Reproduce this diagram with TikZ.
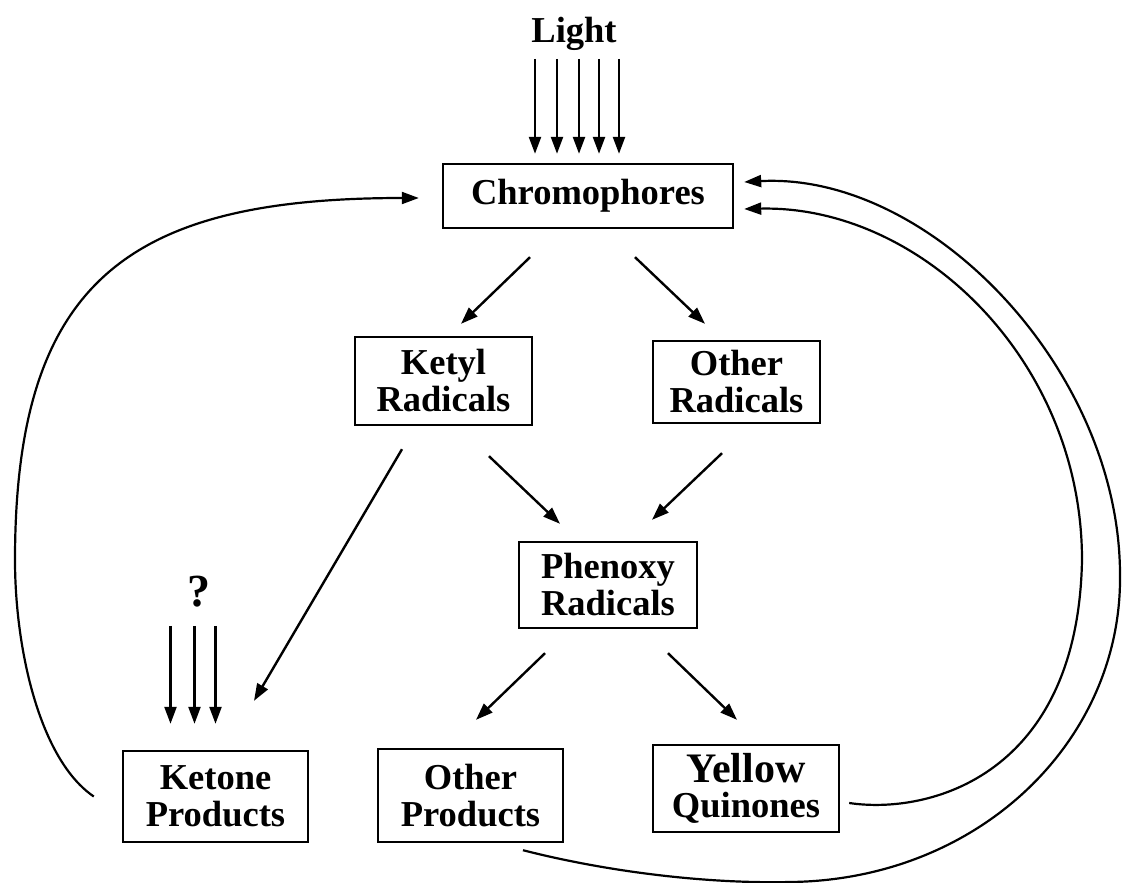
\documentclass[tikz,border=0pt]{standalone}
\usepackage{fontspec}
\setmainfont{Liberation Serif}
\usetikzlibrary{arrows.meta}
\begin{document}
\begin{tikzpicture}[x=1pt,y=-1pt,
  txt/.style={font=\bfseries\fontsize{36.5}{37}\selectfont},
  box/.style={txt, draw, line width=2.4pt, rectangle, inner sep=0pt, align=center},
  tip/.style={-{Triangle[length=17pt,width=12pt]}},
  arr/.style={tip, line width=2.4pt},
  crv/.style={line width=2.2pt},
  carr/.style={crv, tip}]
\useasboundingbox (0,0) rectangle (1122,883);
\fill[white] (0,0) rectangle (1122,883);

% nodes
\node[txt, anchor=base] (light) at (574,43) {Light};
\node[box, minimum width=290pt, minimum height=64pt] (ch) at (588,196) {Chromophores};
\node[box, minimum width=177pt, minimum height=88pt] (ket) at (443.5,381) {Ketyl\\Radicals};
\node[box, minimum width=167pt, minimum height=82pt] (orad) at (736.5,382) {Other\\Radicals};
\node[box, minimum width=178pt, minimum height=86pt] (phen) at (608,585) {Phenoxy\\Radicals};
\node[box, minimum width=185pt, minimum height=91pt] (kp) at (215.5,796.5) {Ketone\\Products};
\node[box, minimum width=185pt, minimum height=93pt] (op) at (470.5,795.5) {Other\\Products};
\node[box, minimum width=186pt, minimum height=87pt] (yq) at (746,788.5) {{\fontsize{42}{37}\selectfont Yellow}\\[-2pt]Quinones};
\node[txt, anchor=base, font=\bfseries\fontsize{46}{46}\selectfont] (q) at (199,606) {?};

% light arrows
\foreach \dx in {-53,-31,-9,11,31}
  \draw[arr] ([xshift=\dx pt,yshift=104pt]ch.north) -- ([xshift=\dx pt,yshift=9pt]ch.north);

% ? arrows
\foreach \dx in {-45,-21,0}
  \draw[arr] ([xshift=\dx pt,yshift=124pt]kp.north) -- ([xshift=\dx pt,yshift=26pt]kp.north);

% straight connectors
\draw[arr] ([xshift=-58pt,yshift=-28pt]ch.south) -- ([xshift=17.5pt,yshift=12pt]ket.north);
\draw[arr] ([xshift=47pt,yshift=-28pt]ch.south) -- ([xshift=-31.5pt,yshift=16pt]orad.north);
\draw[arr] ([xshift=-41.5pt,yshift=-23pt]ket.south) -- ([xshift=38.5pt,yshift=49pt]kp.north);
\draw[arr] ([xshift=45.5pt,yshift=-30pt]ket.south) -- ([xshift=-48pt,yshift=17pt]phen.north);
\draw[arr] ([xshift=-14.5pt,yshift=-29pt]orad.south) -- ([xshift=44pt,yshift=21pt]phen.north);
\draw[arr] ([xshift=-63pt,yshift=-24pt]phen.south) -- ([xshift=5.5pt,yshift=28pt]op.north);
\draw[arr] ([xshift=60pt,yshift=-24pt]phen.south) -- ([xshift=-9pt,yshift=24pt]yq.north);

% curved return connectors
\draw[carr] ([xshift=-28pt]kp.west) .. controls (40,760) and (15,650) .. (15,560)
  .. controls (15,280) and (130,198) .. ([xshift=-23pt,yshift=-2pt]ch.west);
\draw[carr] ([xshift=52.5pt,yshift=-7pt]op.south) .. controls (600,870) and (700,884) .. (790,882)
  .. controls (980,880) and (1122,740) .. (1120,575)
  .. controls (1120,370) and (930,172) .. ([xshift=10pt,yshift=14pt]ch.east);
\draw[carr] ([xshift=9pt,yshift=-14.5pt]yq.east) .. controls (930,815) and (1078,775) .. (1082,560)
  .. controls (1082,360) and (920,205) .. ([xshift=10pt,yshift=-13pt]ch.east);
\end{tikzpicture}
\end{document}
